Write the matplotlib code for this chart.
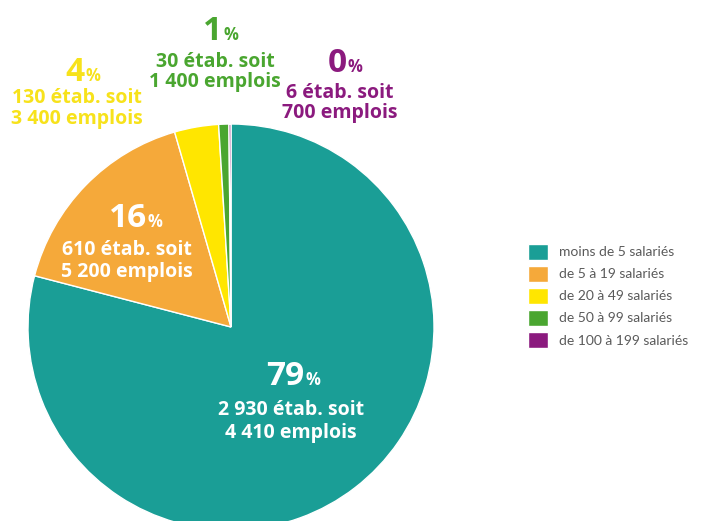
import matplotlib.pyplot as plt

# Données
categories = ["moins de 5 salariés", "de 5 à 19 salariés", "de 20 à 49 salariés",
              "de 50 à 99 salariés", "de 100 à 199 salariés"]
etablissements = [2930, 610, 130, 30, 6]
emplois = ["4 410", "5 200", "3 400", "1 400", "700"]
etab_labels = ["2 930", "610", "130", "30", "6"]
pourcentages = ["79", "16", "4", "1", "0"]
couleurs = ["#1a9e96", "#f5a93a", "#ffe600", "#4aa630", "#8b1a7e"]

plt.rcParams["font.family"] = ["Open Sans", "DejaVu Sans"]

W, H = 706, 521
fig = plt.figure(figsize=(W / 100, H / 100), dpi=100)
ax = fig.add_axes([0, 0, 1, 1])

wedges, _ = ax.pie(etablissements, colors=couleurs, startangle=90, counterclock=False,
                   center=(231, H - 327), radius=203, frame=True,
                   wedgeprops=dict(edgecolor="white", linewidth=1))
ax.set_xlim(0, W)
ax.set_ylim(0, H)
ax.set_aspect("equal")
ax.axis("off")

# positions en pixels (origine en haut à gauche):
# x fin du nombre, ligne de base du nombre, x centre du texte, lignes de base
pos = [(304, 385, 291, 415, 438),
       (147, 227, 127, 255, 277),
       (84, 81, 77, 103, 124),
       (222, 40, 215, 67, 87),
       (347, 72, 340, 98, 118)]
txt_col = ["white", "white", "#f7e21b", "#4aa630", "#8b1a7e"]

for i in range(5):
    px, py, lx, l1, l2 = pos[i]
    ax.text(px, H - py, pourcentages[i], color=txt_col[i], fontsize=24,
            fontweight="bold", ha="right", va="baseline")
    ax.text(px + 1, H - py, "%", color=txt_col[i], fontsize=12,
            fontweight="bold", ha="left", va="baseline")
    ax.text(lx, H - l1, etab_labels[i] + " étab. soit", color=txt_col[i], fontsize=14,
            fontweight="bold", ha="center", va="baseline")
    ax.text(lx, H - l2, emplois[i] + " emplois", color=txt_col[i], fontsize=14,
            fontweight="bold", ha="center", va="baseline")

leg = ax.legend(wedges, categories, loc="upper left", bbox_to_anchor=(515 / W, 1 - 231 / H),
                frameon=False, handlelength=1.45, handleheight=1.45, handletextpad=0.8,
                labelspacing=0.4, prop=dict(family="Lato", weight="normal", size=10))
for t in leg.get_texts():
    t.set_color("#5a5a5a")

fig.savefig("out.png", dpi=100)
